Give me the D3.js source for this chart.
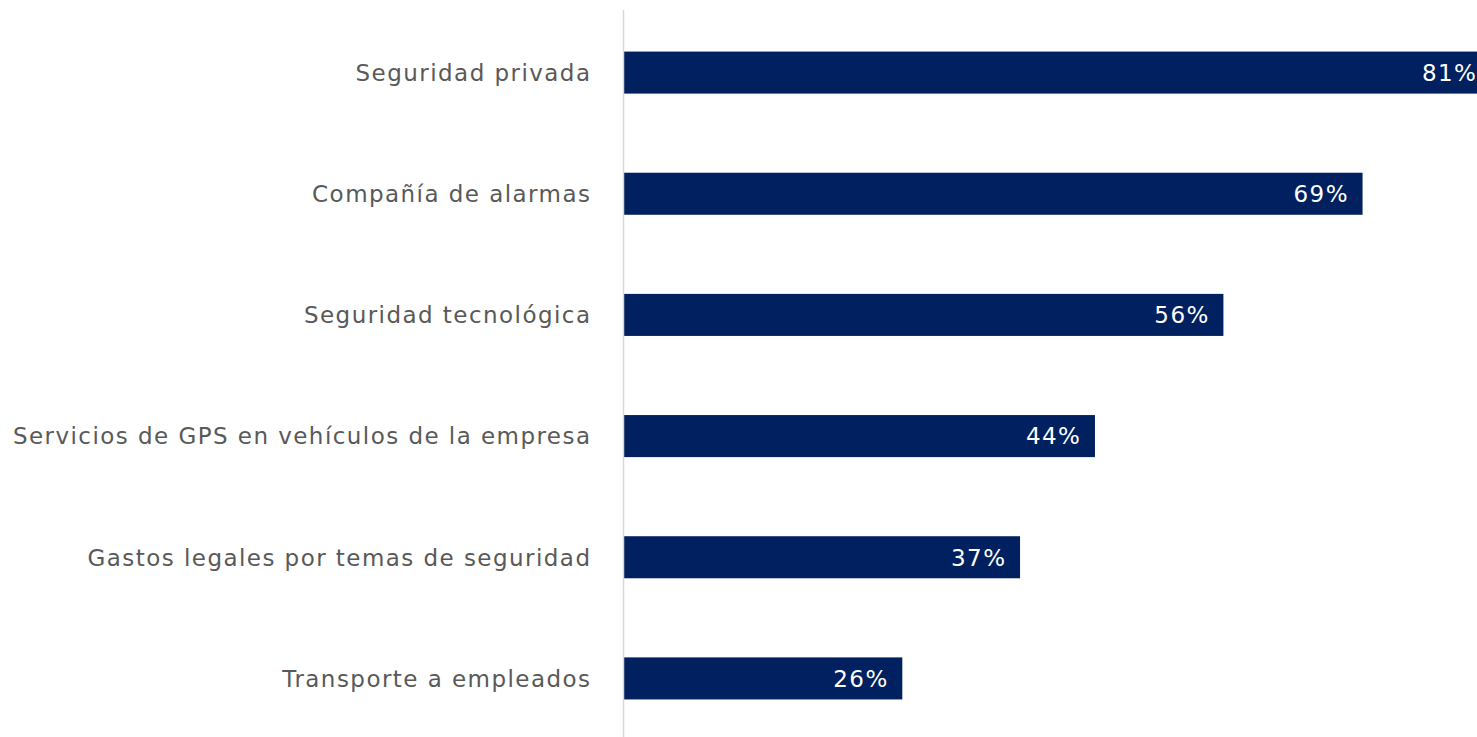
<!DOCTYPE html>
<html>
<head>
<meta charset="utf-8">
<script src="https://cdn.jsdelivr.net/npm/d3@7"></script>
<style>
  body { margin: 0; background: #fff; }
  svg { display: block; }
</style>
</head>
<body>
<div id="chart"></div>
<script>
// =================================== DATA ===================================

const categories = [
  "Seguridad privada",
  "Compañía de alarmas",
  "Seguridad tecnológica",
  "Servicios de GPS en vehículos de la empresa",
  "Gastos legales por temas de seguridad",
  "Transporte a empleados"
]
const values = [81, 69, 56, 44, 37, 26]

const data = categories.map((c, i) => ({ label: c, value: values[i] }))

// =================================== SETTINGS ===================================

const width = 1477
const height = 737
const x0 = 624
const ls = 1.45 // letter spacing

const svg = d3.select('#chart')
  .append('svg')
  .attr('width', width)
  .attr('height', height)

const x = d3.scaleLinear()
  .domain([0, 81])
  .range([x0, x0 + 867])

const y = d3.scaleBand()
  .domain(categories)
  .range([12, 739])
  .paddingInner(0.653)
  .paddingOuter(0.3265)

// =================================== BARS ===================================

svg.selectAll('.bar')
  .data(data)
  .enter().append('rect')
  .attr('class', 'bar')
  .attr('x', x(0))
  .attr('y', d => y(d.label))
  .attr('width', d => x(d.value) - x(0))
  .attr('height', y.bandwidth())
  .style('fill', '#002060')

// axis line
svg.append('line')
  .attr('x1', x0 - 0.5).attr('x2', x0 - 0.5)
  .attr('y1', 10).attr('y2', height)
  .style('stroke', '#d9d9d9')
  .style('stroke-width', 1.5)

// =================================== LABELS ===================================

svg.append('g')
  .selectAll('text')
  .data(data)
  .enter().append('text')
  .attr('x', 590 + ls)
  .attr('y', d => y(d.label) + y.bandwidth() / 2)
  .attr('dy', '0.36em')
  .attr('text-anchor', 'end')
  .style('font-family', 'Verdana, "DejaVu Sans", sans-serif')
  .style('font-size', '23px')
  .style('letter-spacing', ls + 'px')
  .style('fill', '#595959')
  .text(d => d.label)

svg.append('g')
  .selectAll('text')
  .data(data)
  .enter().append('text')
  .attr('x', d => x(d.value) - 15 + ls)
  .attr('y', d => y(d.label) + y.bandwidth() / 2)
  .attr('dy', '0.36em')
  .attr('text-anchor', 'end')
  .style('font-family', 'Verdana, "DejaVu Sans", sans-serif')
  .style('font-size', '23px')
  .style('letter-spacing', ls + 'px')
  .style('fill', '#ffffff')
  .text(d => d.value + '%')
</script>
</body>
</html>
